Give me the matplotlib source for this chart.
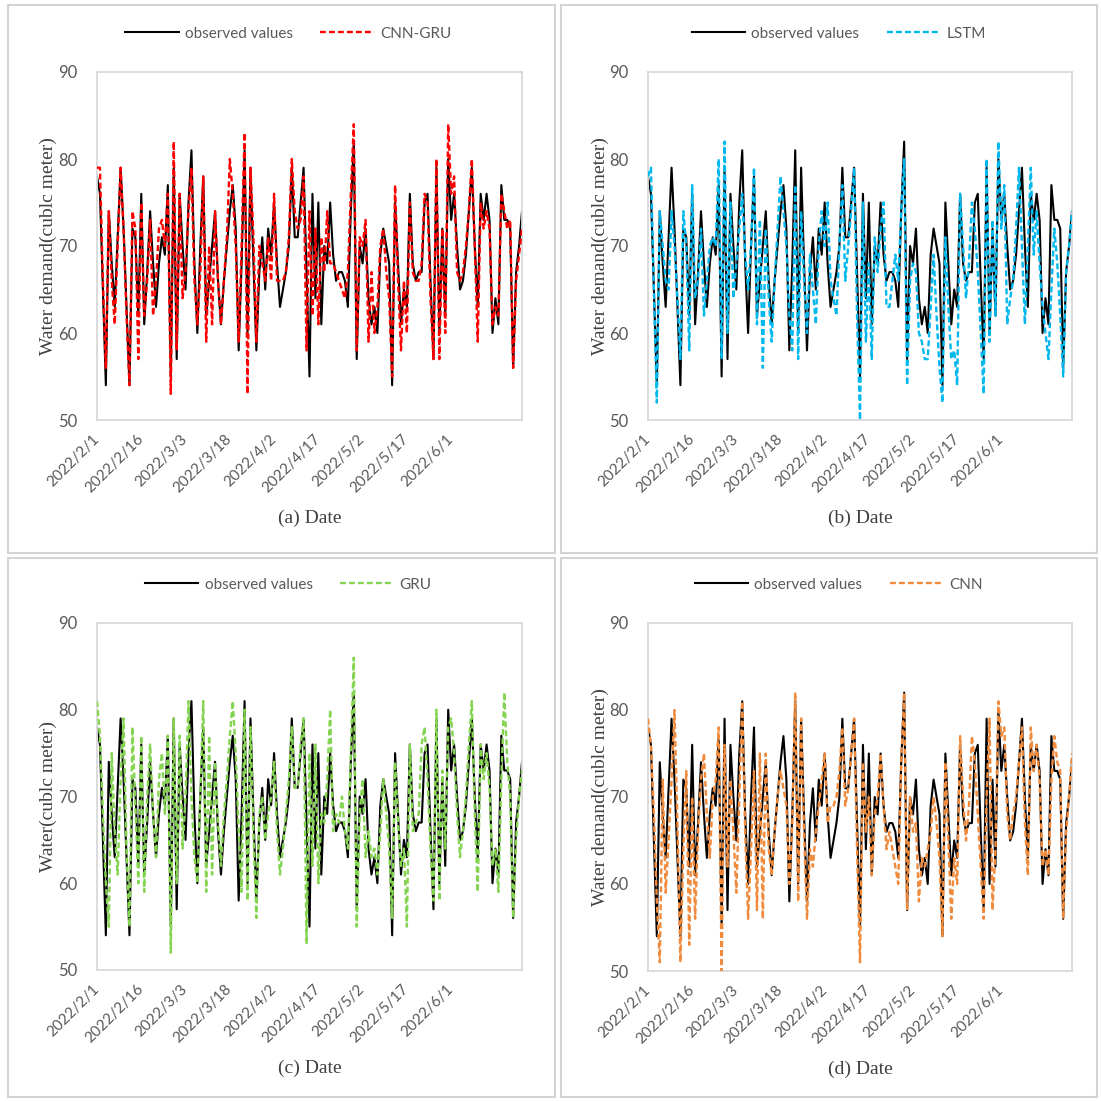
import matplotlib.pyplot as plt
import pandas as pd
from matplotlib.patches import Rectangle

# daily water demand, 2022/2/1 onwards
observed = [78, 76, 65, 54, 74, 68, 63, 71, 79, 72,
            63, 54, 72, 71, 62, 76, 61, 67, 74, 68,
            63, 68, 71, 69, 77, 55, 79, 57, 76, 70,
            65, 75, 81, 68, 60, 70, 78, 62, 66, 70,
            74, 66, 61, 66, 70, 74, 77, 72, 58, 68,
            81, 60, 79, 68, 58, 67, 71, 65, 72, 69,
            75, 68, 63, 65, 67, 70, 79, 71, 71, 75,
            79, 67, 55, 76, 64, 75, 61, 70, 68, 75,
            69, 66, 67, 67, 66, 63, 74, 82, 57, 70,
            68, 72, 64, 61, 63, 60, 69, 72, 70, 68,
            54, 75, 68, 61, 65, 63, 76, 68, 66, 67,
            67, 75, 76, 66, 57, 79, 60, 72, 62, 80,
            73, 76, 70, 65, 66, 69, 74, 79, 70, 63,
            76, 73, 76, 73, 60, 64, 61, 77, 73, 73,
            72, 56, 67, 70, 74]

cnn_gru = [79, 79, 66, 56, 74, 66, 61, 70, 79, 72,
           62, 54, 74, 72, 57, 75, 62, 66, 73, 62,
           66, 72, 73, 70, 76, 53, 82, 58, 76, 64,
           67, 74, 79, 66, 61, 67, 78, 59, 70, 61,
           74, 66, 61, 66, 71, 80, 76, 70, 59, 70,
           83, 53, 79, 71, 59, 70, 68, 66, 71, 66,
           76, 66, 66, 66, 67, 71, 80, 74, 72, 73,
           78, 58, 74, 62, 72, 61, 71, 67, 74, 68,
           68, 67, 66, 65, 64, 67, 76, 84, 58, 71,
           70, 73, 59, 67, 60, 63, 70, 72, 67, 64,
           55, 77, 66, 58, 66, 60, 75, 67, 66, 66,
           68, 76, 75, 64, 57, 80, 57, 72, 60, 84,
           76, 78, 67, 66, 67, 70, 74, 80, 70, 59,
           75, 72, 74, 72, 61, 63, 62, 76, 74, 72,
           73, 56, 66, 69, 72]

lstm = [78, 79, 65, 52, 74, 70, 66, 65, 74, 70,
        64, 57, 74, 70, 58, 77, 64, 66, 72, 62,
        66, 70, 71, 70, 80, 57, 82, 60, 75, 64,
        68, 72, 76, 69, 65, 70, 79, 61, 73, 56,
        72, 64, 59, 66, 72, 78, 74, 70, 62, 58,
        77, 57, 74, 66, 60, 69, 65, 61, 70, 74,
        70, 75, 66, 64, 62, 70, 77, 66, 70, 74,
        79, 62, 50, 75, 59, 68, 57, 71, 67, 72,
        75, 63, 63, 66, 69, 66, 74, 80, 54, 66,
        68, 67, 60, 59, 57, 57, 63, 69, 62, 56,
        52, 71, 63, 57, 58, 54, 76, 70, 64, 68,
        75, 72, 67, 60, 53, 80, 59, 73, 62, 82,
        72, 77, 61, 64, 66, 72, 79, 70, 61, 70,
        79, 69, 74, 68, 63, 60, 57, 65, 72, 68,
        62, 55, 67, 70, 74]

gru = [81, 77, 68, 60, 55, 75, 66, 61, 72, 79,
       64, 55, 78, 69, 60, 77, 59, 70, 76, 68,
       63, 72, 75, 68, 77, 52, 79, 60, 77, 64,
       70, 81, 70, 63, 60, 70, 81, 59, 77, 61,
       74, 67, 62, 68, 72, 77, 81, 75, 66, 59,
       80, 58, 78, 66, 56, 68, 70, 65, 68, 70,
       74, 66, 61, 64, 68, 72, 78, 71, 71, 76,
       79, 53, 75, 62, 76, 60, 68, 67, 72, 80,
       66, 68, 67, 70, 66, 64, 75, 86, 55, 68,
       72, 63, 66, 63, 64, 61, 66, 72, 68, 64,
       56, 74, 67, 62, 64, 55, 76, 66, 67, 68,
       76, 78, 72, 64, 58, 80, 58, 73, 64, 78,
       79, 75, 68, 63, 66, 70, 76, 81, 68, 59,
       76, 72, 75, 71, 62, 64, 59, 72, 82, 74,
       70, 56, 65, 70, 73]

cnn = [79, 76, 68, 58, 51, 72, 59, 65, 72, 80,
       67, 51, 64, 73, 53, 70, 56, 66, 72, 75,
       68, 63, 70, 72, 78, 50, 76, 62, 72, 66,
       59, 70, 81, 66, 56, 64, 73, 57, 75, 56,
       75, 64, 61, 66, 70, 73, 71, 69, 60, 67,
       82, 58, 79, 66, 56, 64, 62, 66, 69, 72,
       75, 67, 69, 69, 70, 73, 78, 69, 71, 75,
       79, 64, 51, 74, 66, 70, 61, 68, 70, 75,
       69, 64, 66, 64, 62, 60, 74, 82, 57, 70,
       66, 67, 58, 63, 62, 64, 66, 70, 67, 63,
       54, 74, 65, 56, 63, 60, 77, 70, 65, 69,
       77, 74, 68, 62, 56, 70, 79, 57, 64, 81,
       77, 78, 68, 65, 68, 70, 74, 78, 67, 61,
       78, 73, 76, 72, 62, 64, 61, 72, 77, 74,
       73, 56, 66, 70, 75]

tick_labels = ["2022/2/1", "2022/2/16", "2022/3/3", "2022/3/18", "2022/4/2",
               "2022/4/17", "2022/5/2", "2022/5/17", "2022/6/1"]

dates = pd.date_range("2022-02-01", periods=len(observed), freq="D")
tick_dates = pd.to_datetime(tick_labels, format="%Y/%m/%d")

W = H = 1101
panels = [
    # name, values, colour, caption, ylabel, axes box px, frame box px
    ("CNN-GRU", cnn_gru, "#FF0000", "(a) Date", "Water demand(cublc meter)",
     (97, 72, 522, 420), (8, 5, 555, 553)),
    ("LSTM", lstm, "#00B7EE", "(b) Date", "Water demand(cublc meter)",
     (648, 72, 1072, 420), (561, 5, 1097, 553)),
    ("GRU", gru, "#84D452", "(c) Date", "Water(cublc meter)",
     (97, 623, 522, 970), (8, 558, 555, 1097)),
    ("CNN", cnn, "#F08A3C", "(d) Date", "Water demand(cublc meter)",
     (648, 623, 1072, 971), (561, 558, 1097, 1097)),
]

fig = plt.figure(figsize=(11.01, 11.01), dpi=100)
sans = "Lato"
serif = "Liberation Serif"
grey = "#595959"

for name, pred, col, cap, ylab, box, frame in panels:
    x0, y0, x1, y1 = frame
    fig.patches.append(Rectangle((x0 / W, 1 - y1 / H), (x1 - x0) / W, (y1 - y0) / H,
                                 transform=fig.transFigure, fill=False,
                                 edgecolor="#d4d4d4", linewidth=1.5))
    l, t, r, b = box
    ax = fig.add_axes([l / W, 1 - b / H, (r - l) / W, (b - t) / H])
    ax.plot(dates, observed, color="black", lw=1.5, label="observed values", zorder=2)
    ax.plot(dates[:len(pred)], pred, color=col, lw=1.7, ls=(0, (2.5, 1.3)),
            label=name, zorder=3)
    ax.set_xlim(dates[0], dates[-1])
    ax.set_ylim(50, 90)
    ax.set_yticks([50, 60, 70, 80, 90])
    ax.set_xticks(tick_dates)
    ax.set_xticklabels(tick_labels, rotation=45, ha="right", va="center",
                       rotation_mode="anchor", fontsize=11, family=sans, color=grey)
    for lab in ax.get_yticklabels():
        lab.set_fontsize(12)
        lab.set_family(sans)
        lab.set_color(grey)
    ax.tick_params(axis="both", length=0)
    ax.tick_params(axis="y", pad=14)
    ax.tick_params(axis="x", pad=12)
    for sp in ax.spines.values():
        sp.set_color("#d9d9d9")
        sp.set_linewidth(1.3)
    ax.set_ylabel(ylab, family=serif, fontsize=14, color="#404040")
    ax.yaxis.set_label_coords(-0.093, 0.5)
    ax.text(0.5, -0.282, cap, transform=ax.transAxes, ha="center", va="center",
            family=serif, fontsize=14, color="#404040")
    ax.legend(loc="center", bbox_to_anchor=(0.45, 1.11), ncol=2, frameon=False,
              handlelength=3.5, handletextpad=0.4, columnspacing=1.8,
              prop={"family": sans, "size": 11}, labelcolor=grey)

fig.savefig("out.png", dpi=100)
